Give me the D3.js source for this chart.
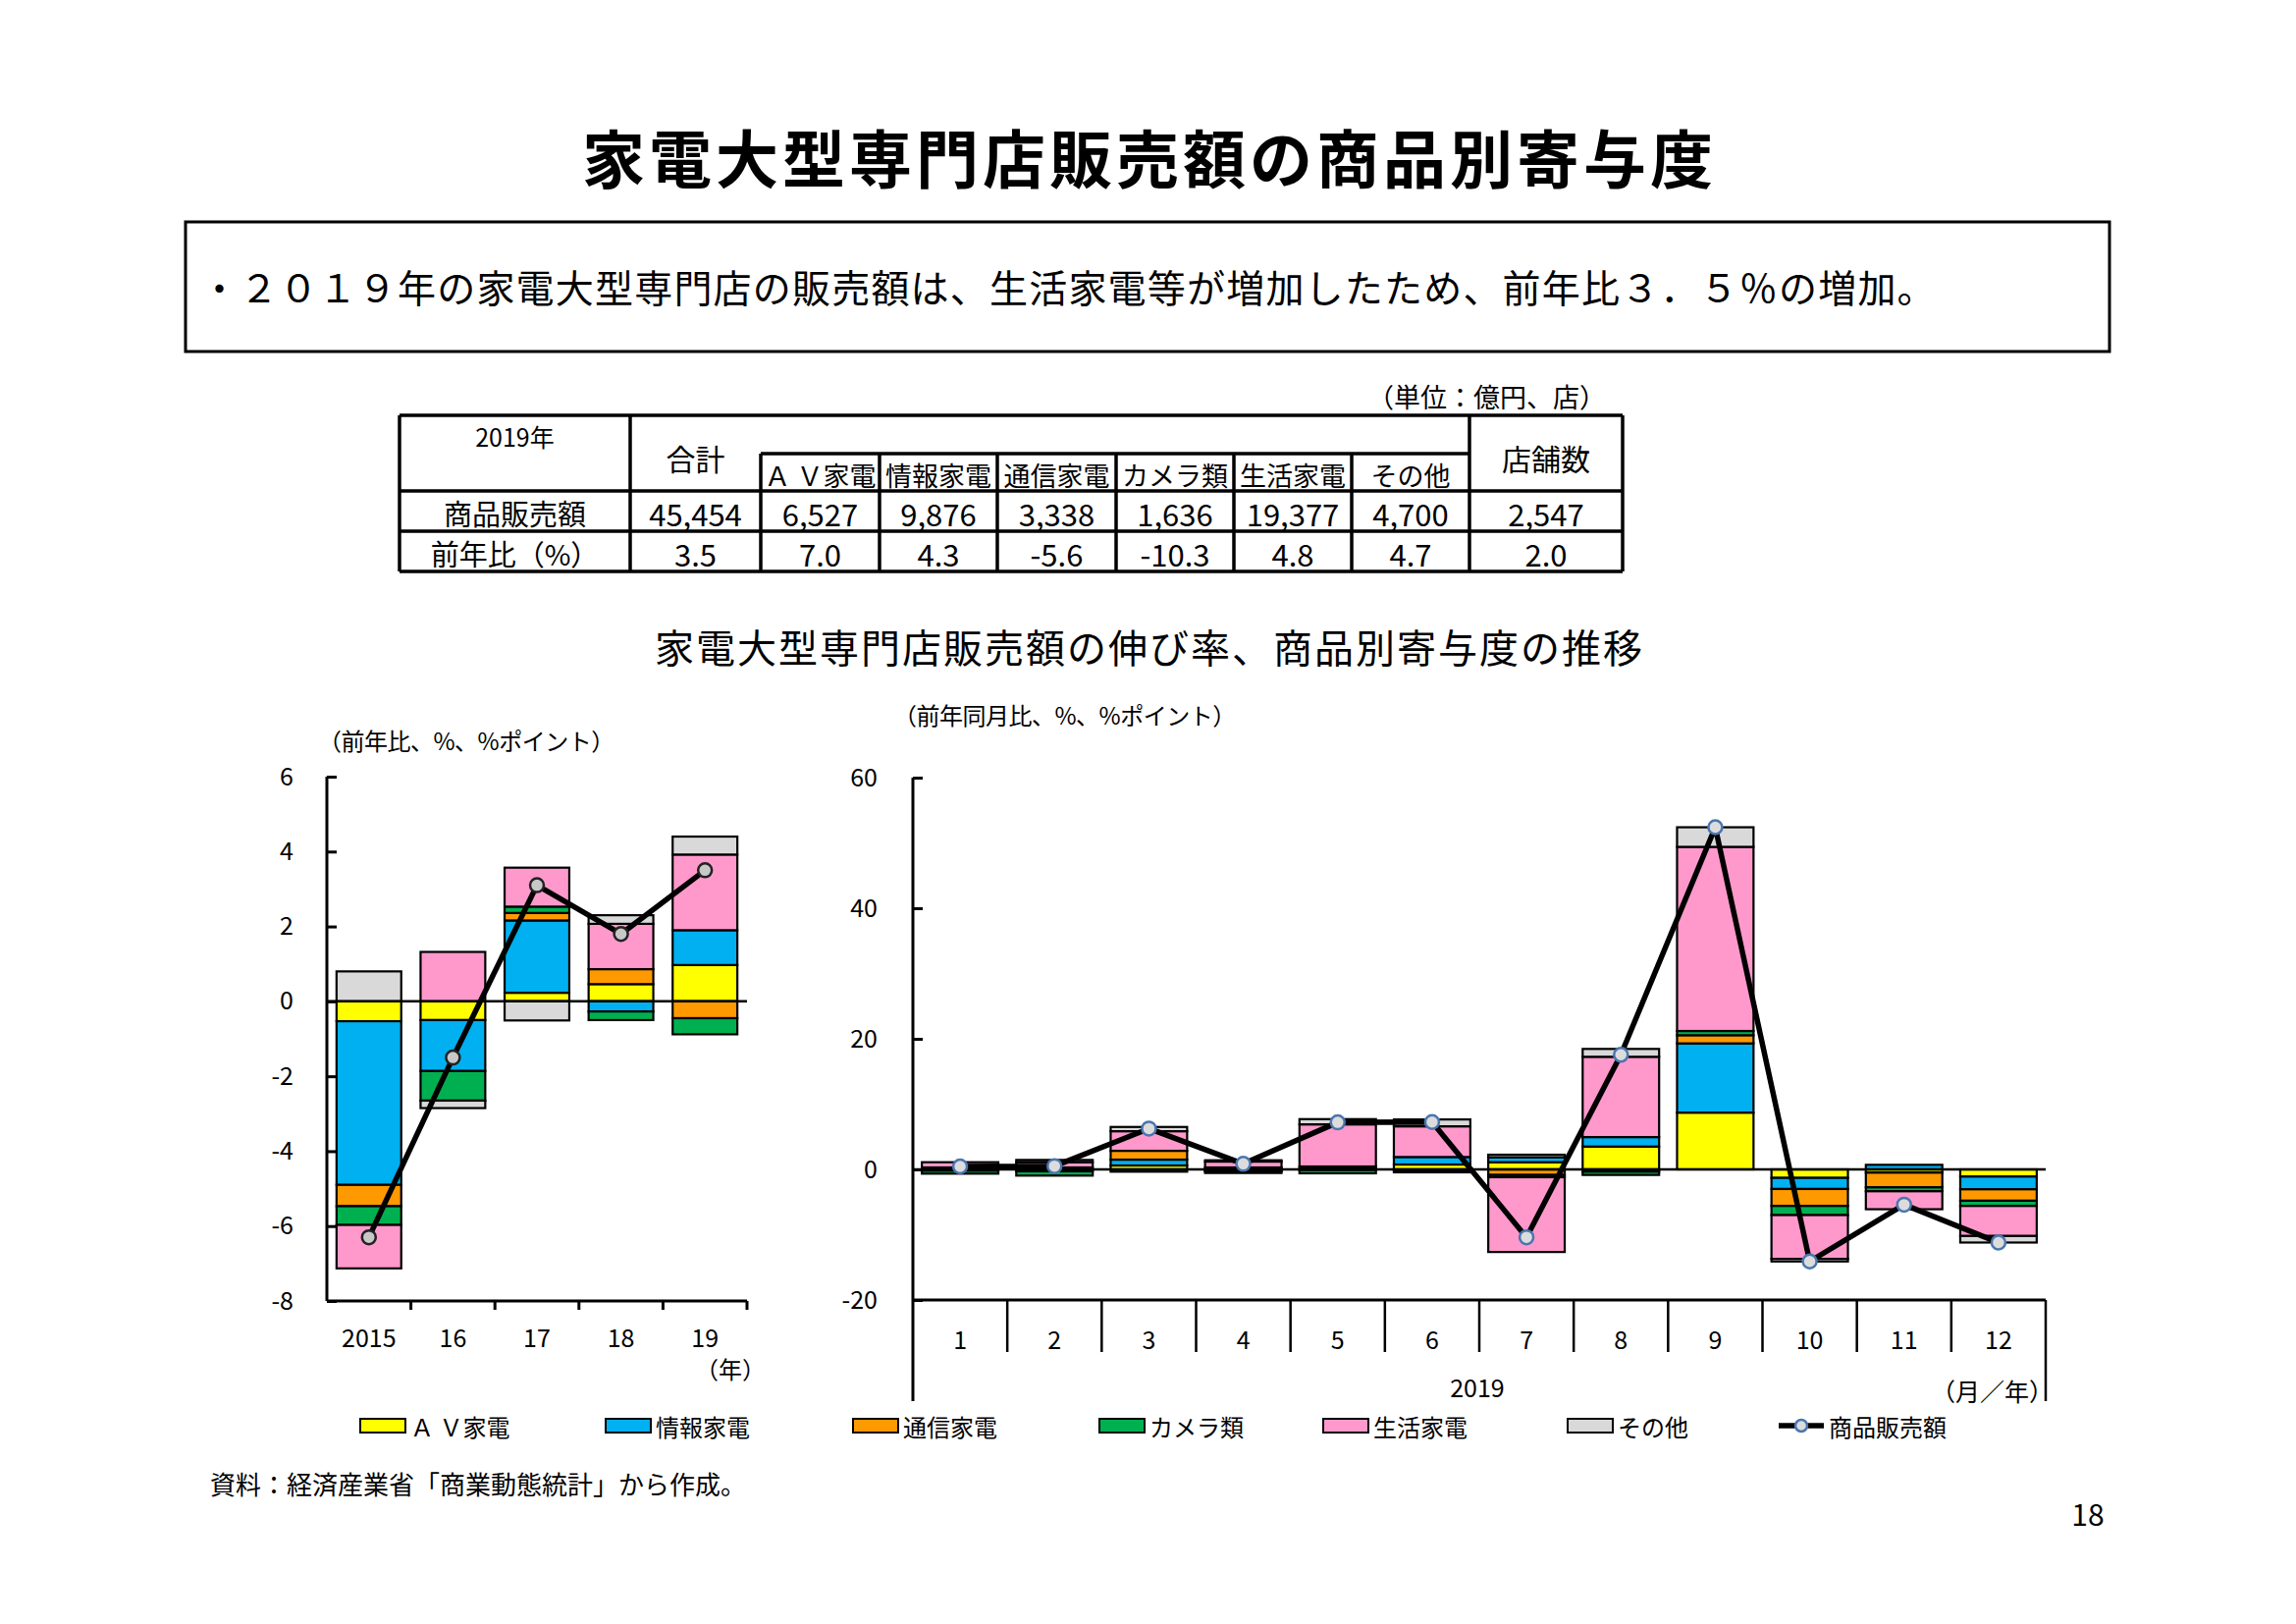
<!DOCTYPE html>
<html>
<meta charset="UTF-8">

<head>
  <script src="https://cdn.jsdelivr.net/npm/d3@7/dist/d3.min.js"></script>
  <style>
    body { margin: 0; background: #fff; }
    text { font-family: "Noto Sans CJK JP", "Noto Sans", sans-serif; fill: #000; }
  </style>
</head>

<body>
  <svg id="page" width="2339" height="1654"></svg>

  <script type="text/javascript">
    // series (legend order = stacking order)
    const seriesNames = ["Ａ Ｖ家電", "情報家電", "通信家電", "カメラ類", "生活家電", "その他"]
    const seriesColors = ["#ffff00", "#00b0f0", "#ff9900", "#00b050", "#ff99cc", "#d9d9d9"]
    const lineName = "商品販売額"

    // annual contributions (%pt) and total growth (%)
    const years = ["2015", "16", "17", "18", "19"]
    const yearAV = [-0.53, -0.5, 0.23, 0.46, 0.97]
    const yearInfo = [-4.37, -1.36, 1.93, -0.27, 0.93]
    const yearComm = [-0.57, 0, 0.2, 0.4, -0.45]
    const yearCamera = [-0.5, -0.79, 0.17, -0.23, -0.43]
    const yearLife = [-1.16, 1.32, 1.04, 1.21, 2.02]
    const yearOther = [0.8, -0.2, -0.51, 0.23, 0.48]
    const yearTotal = [-6.3, -1.5, 3.1, 1.8, 3.5]
    const yearTicks = [-8, -6, -4, -2, 0, 2, 4, 6]

    // monthly 2019 contributions (%pt) and total growth (%)
    const months = ["1", "2", "3", "4", "5", "6", "7", "8", "9", "10", "11", "12"]
    const monthAV = [-0.2, -0.3, 0.6, -0.2, 0.15, 0.75, 1.1, 3.5, 8.7, -1.3, -0.5, -1.1]
    const monthInfo = [0.15, 0, 0.9, -0.1, -0.1, 1.15, 0.75, 1.45, 10.6, -1.7, 0.7, -1.95]
    const monthComm = [0.15, 0.3, 1.35, 0.3, 0.3, -0.15, -0.85, -0.35, 1.25, -2.6, -2.25, -1.75]
    const monthCamera = [-0.45, -0.65, -0.35, -0.25, -0.5, -0.3, -0.35, -0.5, 0.65, -1.4, -0.6, -0.8]
    const monthLife = [0.8, 0.8, 3.0, 0.9, 6.45, 4.7, -11.45, 12.3, 28.2, -6.7, -2.75, -4.6]
    const monthOther = [0, 0.35, 0.65, 0.2, 0.8, 1.05, 0.4, 1.2, 3.0, -0.4, 0, -1.0]
    const monthTotal = [0.45, 0.5, 6.25, 0.85, 7.2, 7.25, -10.4, 17.55, 52.4, -14.1, -5.4, -11.2]
    const monthTicks = [-20, 0, 20, 40, 60]

    // summary table
    const tableYear = "2019年"
    const tableTotalHead = "合計"
    const tableStoreHead = "店舗数"
    const tableRowNames = ["商品販売額", "前年比（%）"]
    const salesRow = ["45,454", "6,527", "9,876", "3,338", "1,636", "19,377", "4,700", "2,547"]
    const yoyRow = ["3.5", "7.0", "4.3", "-5.6", "-10.3", "4.8", "4.7", "2.0"]

    const svg = d3.select("#page")

    // ---- header texts ----
    svg.append("text")
      .attr("x", 1171).attr("y", 158)
      .attr("text-anchor", "middle").attr("dominant-baseline", "central")
      .style("font-size", "64px").style("font-weight", "bold").style("letter-spacing", "4px")
      .text("家電大型専門店販売額の商品別寄与度")

    svg.append("rect")
      .attr("x", 189).attr("y", 226).attr("width", 1960).attr("height", 132)
      .attr("fill", "none").attr("stroke", "#000").attr("stroke-width", 3)

    svg.append("text")
      .attr("x", 204).attr("y", 291)
      .attr("dominant-baseline", "central")
      .style("font-size", "39px").style("letter-spacing", "1.2px")
      .text("・２０１９年の家電大型専門店の販売額は、生活家電等が増加したため、前年比３．５％の増加。")

    svg.append("text")
      .attr("x", 1636).attr("y", 403)
      .attr("text-anchor", "end").attr("dominant-baseline", "central")
      .style("font-size", "27px")
      .text("（単位：億円、店）")

    // ---- table ----
    const colEdges = [407, 642, 775, 896, 1016, 1137, 1257, 1377, 1497, 1653]
    const rowEdges = [423, 462, 500, 541, 582]
    const tg = svg.append("g").attr("stroke", "#000").attr("stroke-width", 3.5)
    const hline = (x1, x2, yy) => tg.append("line").attr("x1", x1).attr("x2", x2).attr("y1", yy).attr("y2", yy)
    const vline = (xx, y1, y2) => tg.append("line").attr("x1", xx).attr("x2", xx).attr("y1", y1).attr("y2", y2)
    hline(colEdges[0], colEdges[9], rowEdges[0])
    hline(colEdges[2], colEdges[8], rowEdges[1])
    hline(colEdges[0], colEdges[9], rowEdges[2])
    hline(colEdges[0], colEdges[9], rowEdges[3])
    hline(colEdges[0], colEdges[9], rowEdges[4])
    colEdges.forEach((cx, i) => {
      const top = (i >= 2 && i <= 7) ? rowEdges[1] : rowEdges[0]
      vline(cx, top, rowEdges[4])
    })
    const colMid = i => (colEdges[i] + colEdges[i + 1]) / 2
    const cellText = (cx, cy, t, size) => svg.append("text")
      .attr("x", cx).attr("y", cy)
      .attr("text-anchor", "middle").attr("dominant-baseline", "central")
      .style("font-size", size + "px").text(t)

    cellText(colMid(0), 444, tableYear, 25)
    cellText(colMid(1), 466, tableTotalHead, 30)
    cellText(colMid(8), 466, tableStoreHead, 30)
    seriesNames.forEach((n, i) => cellText(colMid(i + 2), 483, n, 27))
    cellText(colMid(0), 522, tableRowNames[0], 29)
    cellText(colMid(0), 563, tableRowNames[1], 29)
    salesRow.forEach((v, i) => cellText(colMid(i + 1), 522, v, 31))
    yoyRow.forEach((v, i) => cellText(colMid(i + 1), 563, v, 31))

    // ---- chart titles ----
    svg.append("text")
      .attr("x", 1171).attr("y", 658)
      .attr("text-anchor", "middle").attr("dominant-baseline", "central")
      .style("font-size", "40px").style("letter-spacing", "2px")
      .text("家電大型専門店販売額の伸び率、商品別寄与度の推移")

    svg.append("text")
      .attr("x", 324).attr("y", 753).attr("dominant-baseline", "central")
      .style("font-size", "24px").style("letter-spacing", "-0.5px").text("（前年比、%、%ポイント）")

    svg.append("text")
      .attr("x", 910).attr("y", 727).attr("dominant-baseline", "central")
      .style("font-size", "24px").style("letter-spacing", "-0.5px").text("（前年同月比、%、%ポイント）")

    // ---- charts ----
    function buildRows(cats, cols) {
      return cats.map((c, i) => {
        const r = { cat: c }
        cols.forEach((arr, k) => r["s" + k] = arr[i])
        return r
      })
    }

    function drawChart(opt) {
      const g = svg.append("g")
      const x = d3.scaleBand().domain(opt.cats).range(opt.xRange)
        .paddingInner(opt.pad).paddingOuter(opt.pad / 2)
      const y = d3.scaleLinear().domain(opt.yDomain).range(opt.yRange)
      const keys = seriesNames.map((d, i) => "s" + i)
      const stacked = d3.stack().keys(keys).offset(d3.stackOffsetDiverging)(opt.rows)

      // stacked bars
      g.selectAll("g.series")
        .data(stacked)
        .join("g")
        .attr("class", "series")
        .attr("fill", (d, i) => seriesColors[i])
        .selectAll("rect")
        .data(d => d.filter(p => p[1] !== p[0]))
        .join("rect")
        .attr("x", d => x(d.data.cat))
        .attr("width", x.bandwidth())
        .attr("y", d => y(Math.max(d[0], d[1])))
        .attr("height", d => Math.abs(y(d[0]) - y(d[1])))
        .attr("stroke", "#000")
        .attr("stroke-width", 2.2)

      // zero line
      g.append("line")
        .attr("x1", opt.xRange[0]).attr("x2", opt.xRange[1])
        .attr("y1", y(0)).attr("y2", y(0))
        .attr("stroke", "#000").attr("stroke-width", 2.5)

      // y axis
      const ya = g.append("g")
        .attr("transform", `translate(${opt.xRange[0]},0)`)
        .call(d3.axisLeft(y).tickValues(opt.ticks).tickSizeInner(-10).tickSizeOuter(0)
          .tickPadding(opt.labelPad).tickFormat(d => String(d)))
      ya.select(".domain").attr("stroke-width", 3)
        .attr("d", `M0,${opt.yRange[1]}V${opt.axisBottomEnd}`)
      ya.selectAll(".tick line").attr("stroke-width", 3)
      ya.selectAll(".tick text").style("font-size", "25px")
        .style("font-family", '"Noto Sans CJK JP", sans-serif')

      // x axis line + band separators
      const yb = y(opt.yDomain[0])
      g.append("line")
        .attr("x1", opt.xRange[0]).attr("x2", opt.xRange[1])
        .attr("y1", yb).attr("y2", yb)
        .attr("stroke", "#000").attr("stroke-width", 3)
      const edges = d3.range(opt.cats.length + 1).map(i => opt.xRange[0] + i * x.step())
      g.selectAll("line.sep")
        .data(edges.slice(1))
        .join("line")
        .attr("class", "sep")
        .attr("x1", d => d).attr("x2", d => d)
        .attr("y1", yb)
        .attr("y2", (d, i) => i === opt.cats.length - 1 ? yb + opt.endLen : yb + opt.sepLen)
        .attr("stroke", "#000").attr("stroke-width", opt.sepWidth)

      g.selectAll("text.cat")
        .data(opt.cats)
        .join("text")
        .attr("class", "cat")
        .attr("x", d => x(d) + x.bandwidth() / 2)
        .attr("y", yb + opt.catOffset)
        .attr("text-anchor", "middle").attr("dominant-baseline", "central")
        .style("font-size", "25px")
        .text(d => d)

      // total line with markers
      const pts = opt.cats.map((c, i) => [x(c) + x.bandwidth() / 2, y(opt.total[i])])
      g.append("path")
        .attr("d", d3.line()(pts))
        .attr("fill", "none").attr("stroke", "#000")
        .attr("stroke-width", 5.5).attr("stroke-linejoin", "round")
      g.selectAll("circle")
        .data(pts)
        .join("circle")
        .attr("cx", d => d[0]).attr("cy", d => d[1])
        .attr("r", 7)
        .attr("fill", opt.markerFill)
        .attr("stroke", opt.markerStroke)
        .attr("stroke-width", 2.5)
      return { x, y }
    }

    const leftRows = buildRows(years, [yearAV, yearInfo, yearComm, yearCamera, yearLife, yearOther])
    drawChart({
      cats: years, rows: leftRows, total: yearTotal,
      xRange: [333, 761], yRange: [1325, 791], yDomain: [-8, 6], ticks: yearTicks,
      pad: 0.23, labelPad: 34, axisBottomEnd: 1325,
      sepLen: 9, endLen: 9, sepWidth: 3, catOffset: 36,
      markerFill: "#c8c8c8", markerStroke: "#222"
    })
    svg.append("text")
      .attr("x", 744).attr("y", 1393)
      .attr("text-anchor", "middle").attr("dominant-baseline", "central")
      .style("font-size", "24px").text("（年）")

    const rightRows = buildRows(months, [monthAV, monthInfo, monthComm, monthCamera, monthLife, monthOther])
    drawChart({
      cats: months, rows: rightRows, total: monthTotal,
      xRange: [930, 2084], yRange: [1324, 792], yDomain: [-20, 60], ticks: monthTicks,
      pad: 0.19, labelPad: 36, axisBottomEnd: 1427,
      sepLen: 53, endLen: 103, sepWidth: 2.5, catOffset: 39,
      markerFill: "#dcdcdc", markerStroke: "#4a76b0"
    })
    svg.append("text")
      .attr("x", 1505).attr("y", 1412)
      .attr("text-anchor", "middle").attr("dominant-baseline", "central")
      .style("font-size", "25px").text("2019")
    svg.append("text")
      .attr("x", 2092).attr("y", 1416)
      .attr("text-anchor", "end").attr("dominant-baseline", "central")
      .style("font-size", "25px").text("（月／年）")

    // ---- legend ----
    const legendX = [367, 617, 869, 1120, 1348, 1597]
    const lg = svg.append("g")
    seriesNames.forEach((n, i) => {
      lg.append("rect")
        .attr("x", legendX[i]).attr("y", 1445).attr("width", 46).attr("height", 14)
        .attr("fill", seriesColors[i]).attr("stroke", "#000").attr("stroke-width", 2)
      lg.append("text")
        .attr("x", legendX[i] + 51).attr("y", 1452).attr("dominant-baseline", "central")
        .style("font-size", "24px").text(n)
    })
    lg.append("line")
      .attr("x1", 1812).attr("x2", 1858).attr("y1", 1452).attr("y2", 1452)
      .attr("stroke", "#000").attr("stroke-width", 5.5)
    lg.append("circle")
      .attr("cx", 1835).attr("cy", 1452).attr("r", 6)
      .attr("fill", "#dcdcdc").attr("stroke", "#4a76b0").attr("stroke-width", 2.5)
    lg.append("text")
      .attr("x", 1863).attr("y", 1452).attr("dominant-baseline", "central")
      .style("font-size", "24px").text(lineName)

    // ---- footer ----
    svg.append("text")
      .attr("x", 214).attr("y", 1510).attr("dominant-baseline", "central")
      .style("font-size", "26px").text("資料：経済産業省「商業動態統計」から作成。")
    svg.append("text")
      .attr("x", 2127).attr("y", 1541)
      .attr("text-anchor", "middle").attr("dominant-baseline", "central")
      .style("font-size", "30px").text("18")
  </script>
</body>

</html>
